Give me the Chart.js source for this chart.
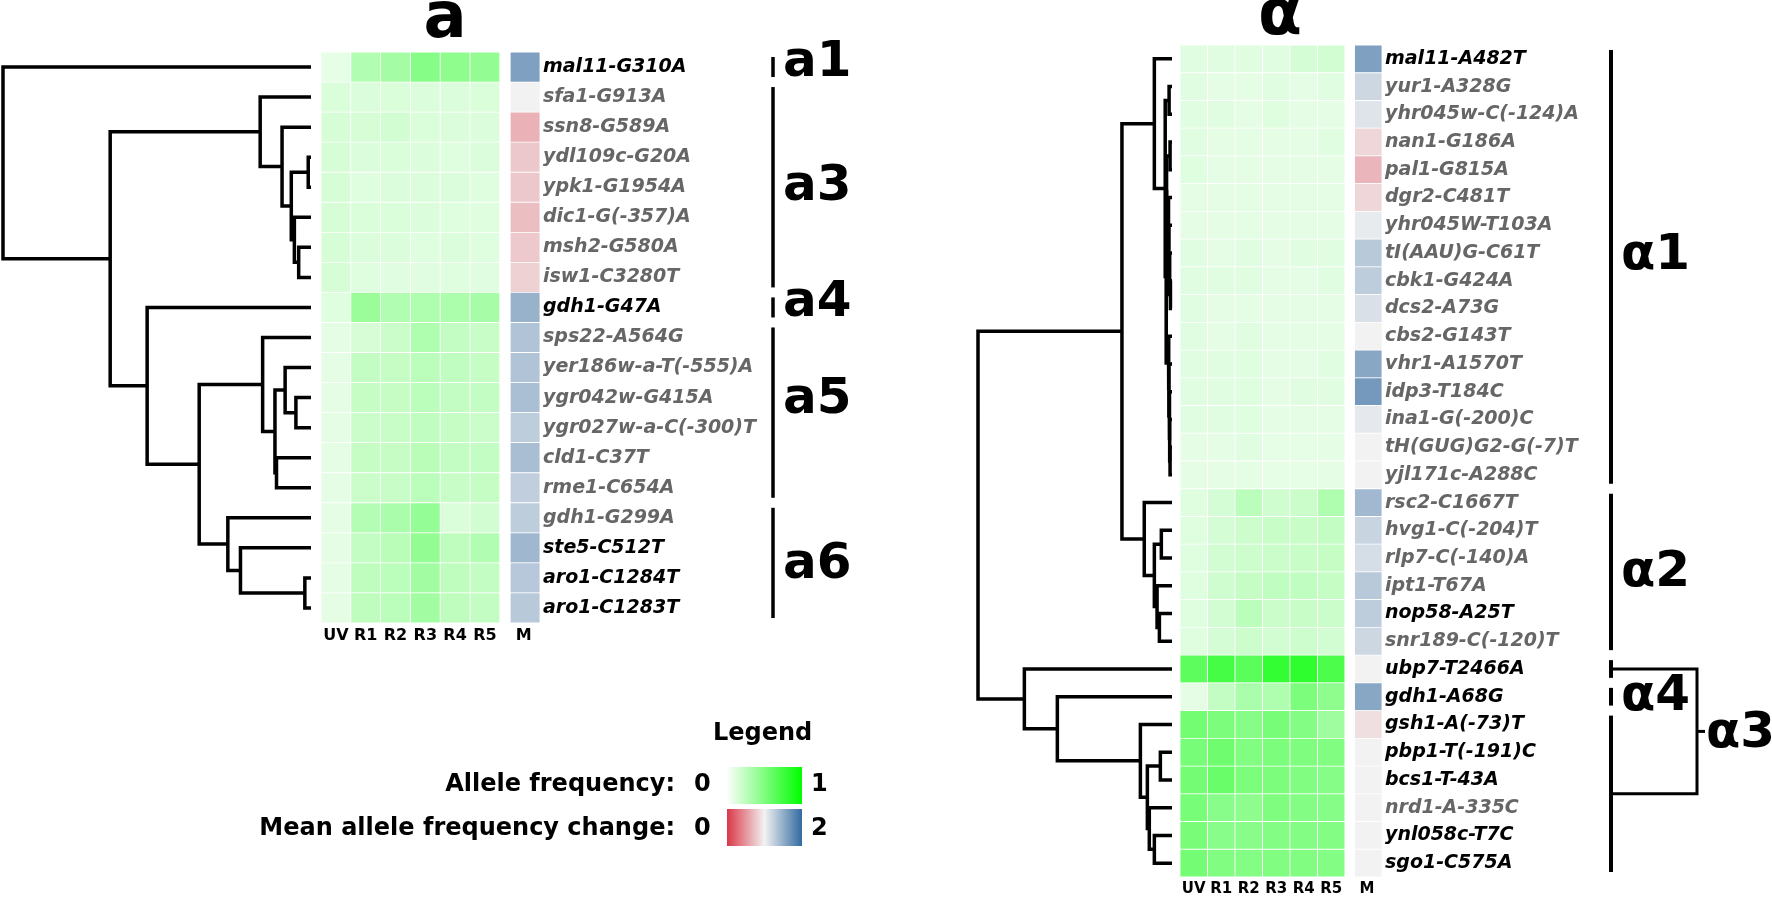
<!DOCTYPE html>
<html><head><meta charset="utf-8">
<script src="https://cdn.jsdelivr.net/npm/chart.js@4.4.1/dist/chart.umd.min.js"></script>
<style>
html,body{margin:0;padding:0;background:#fff;}
#page{position:relative;width:1772px;height:899px;overflow:hidden;background:#fff;font-family:"DejaVu Sans",Verdana,sans-serif;}
#page canvas{position:absolute;top:0;}
.lg{position:absolute;font-weight:bold;font-size:24px;line-height:24px;color:#000;white-space:nowrap;}
.cbar{position:absolute;width:75px;height:37px;}
</style></head><body><div id="page">
<canvas id="treeA" width="320" height="899" style="left:0px"></canvas>
<canvas id="heatA" width="580" height="899" style="left:300px"></canvas>
<canvas id="treeB" width="218" height="899" style="left:960px"></canvas>
<canvas id="heatB" width="612" height="899" style="left:1160px"></canvas>
<div class="lg" style="left:713px;top:720px;">Legend</div>
<div class="lg" style="left:0px;width:675px;text-align:right;top:771px;">Allele frequency:</div>
<div class="lg" style="left:0px;width:675px;text-align:right;top:815px;">Mean allele frequency change:</div>
<div class="lg" style="left:694px;top:771px;">0</div>
<div class="lg" style="left:694px;top:815px;">0</div>
<div class="lg" style="left:811px;top:771px;">1</div>
<div class="lg" style="left:811px;top:815px;">2</div>
<div class="cbar" id="cbFreq" style="left:727px;top:767px;"></div>
<div class="cbar" id="cbChange" style="left:727px;top:809px;"></div>
</div>
<script>
// ---------- data ----------
const columns = ['UV','R1','R2','R3','R4','R5'];
const changeLabel = 'M';

// panel a
const genesA = ['mal11-G310A','sfa1-G913A','ssn8-G589A','ydl109c-G20A','ypk1-G1954A','dic1-G(-357)A','msh2-G580A','isw1-C3280T','gdh1-G47A','sps22-A564G','yer186w-a-T(-555)A','ygr042w-G415A','ygr027w-a-C(-300)T','cld1-C37T','rme1-C654A','gdh1-G299A','ste5-C512T','aro1-C1284T','aro1-C1283T'];
const freqA = [
 [0.09,0.30,0.35,0.47,0.44,0.42],
 [0.14,0.13,0.14,0.13,0.13,0.14],
 [0.15,0.15,0.17,0.14,0.13,0.13],
 [0.15,0.13,0.14,0.13,0.12,0.13],
 [0.15,0.12,0.13,0.13,0.13,0.12],
 [0.15,0.14,0.14,0.13,0.12,0.12],
 [0.15,0.13,0.13,0.12,0.13,0.12],
 [0.15,0.12,0.11,0.11,0.12,0.11],
 [0.12,0.39,0.30,0.31,0.32,0.34],
 [0.10,0.15,0.20,0.31,0.23,0.21],
 [0.10,0.23,0.22,0.26,0.24,0.22],
 [0.10,0.22,0.22,0.26,0.23,0.23],
 [0.10,0.20,0.21,0.24,0.22,0.20],
 [0.10,0.22,0.22,0.27,0.23,0.23],
 [0.10,0.20,0.21,0.26,0.21,0.22],
 [0.10,0.29,0.33,0.41,0.14,0.17],
 [0.10,0.23,0.27,0.42,0.25,0.30],
 [0.10,0.25,0.26,0.36,0.25,0.23],
 [0.10,0.25,0.26,0.36,0.25,0.23]
];
const changeA = [1.60,1.00,0.65,0.77,0.77,0.72,0.78,0.82,1.47,1.34,1.34,1.37,1.27,1.38,1.26,1.27,1.43,1.31,1.30];
const blackA = [1,0,0,0,0,0,0,0,1,0,0,0,0,0,0,0,1,1,1];
// linkage: [child a, child b, height]; leaves 0..n-1, merges n..
const linkA = [
 [3,4,0.009],[6,7,0.040],[5,20,0.054],[19,21,0.064],[2,22,0.094],[1,23,0.165],
 [11,12,0.049],[10,25,0.084],[13,14,0.112],[26,27,0.117],[9,28,0.157],
 [17,18,0.020],[16,30,0.229],[15,31,0.270],[29,32,0.363],[8,33,0.532],
 [24,34,0.652],[0,35,1.000]
];
const clustersA = [
 {name:'a1', from:0, to:0, labelAt:-0.15},
 {name:'a3', from:1, to:7, labelAt:4.0},
 {name:'a4', from:8, to:8, labelAt:7.84},
 {name:'a5', from:9, to:14, labelAt:11.08},
 {name:'a6', from:15, to:18, labelAt:16.57}
];

// panel α
const genesB = ['mal11-A482T','yur1-A328G','yhr045w-C(-124)A','nan1-G186A','pal1-G815A','dgr2-C481T','yhr045W-T103A','tI(AAU)G-C61T','cbk1-G424A','dcs2-A73G','cbs2-G143T','vhr1-A1570T','idp3-T184C','ina1-G(-200)C','tH(GUG)G2-G(-7)T','yjl171c-A288C','rsc2-C1667T','hvg1-C(-204)T','rlp7-C(-140)A','ipt1-T67A','nop58-A25T','snr189-C(-120)T','ubp7-T2466A','gdh1-A68G','gsh1-A(-73)T','pbp1-T(-191)C','bcs1-T-43A','nrd1-A-335C','ynl058c-T7C','sgo1-C575A'];
const freqB = [
 [0.11,0.11,0.11,0.11,0.16,0.17],
 [0.11,0.10,0.10,0.11,0.10,0.11],
 [0.11,0.11,0.10,0.12,0.10,0.10],
 [0.11,0.10,0.10,0.10,0.10,0.11],
 [0.12,0.10,0.10,0.10,0.10,0.10],
 [0.10,0.10,0.10,0.10,0.10,0.10],
 [0.10,0.10,0.10,0.10,0.10,0.10],
 [0.11,0.10,0.11,0.10,0.11,0.11],
 [0.11,0.11,0.11,0.10,0.10,0.11],
 [0.11,0.10,0.10,0.10,0.10,0.10],
 [0.11,0.10,0.11,0.10,0.10,0.10],
 [0.11,0.11,0.12,0.10,0.10,0.11],
 [0.11,0.11,0.12,0.10,0.11,0.11],
 [0.11,0.11,0.12,0.10,0.10,0.10],
 [0.10,0.10,0.11,0.09,0.09,0.10],
 [0.10,0.10,0.10,0.09,0.09,0.10],
 [0.12,0.16,0.26,0.18,0.20,0.31],
 [0.12,0.16,0.19,0.21,0.21,0.23],
 [0.12,0.17,0.19,0.20,0.21,0.22],
 [0.12,0.18,0.22,0.24,0.24,0.22],
 [0.12,0.17,0.26,0.20,0.21,0.20],
 [0.12,0.16,0.19,0.17,0.19,0.17],
 [0.63,0.73,0.64,0.80,0.82,0.70],
 [0.10,0.23,0.33,0.31,0.51,0.44],
 [0.55,0.51,0.47,0.53,0.48,0.37],
 [0.53,0.56,0.49,0.51,0.50,0.49],
 [0.54,0.58,0.51,0.51,0.49,0.47],
 [0.53,0.46,0.44,0.50,0.48,0.47],
 [0.52,0.46,0.46,0.48,0.48,0.48],
 [0.54,0.49,0.48,0.49,0.49,0.48]
];
const changeB = [1.60,1.20,1.10,0.85,0.68,0.85,1.05,1.30,1.27,1.13,1.00,1.55,1.65,1.07,1.00,1.00,1.42,1.22,1.15,1.30,1.27,1.20,1.00,1.55,0.90,1.00,1.00,1.00,1.00,1.00];
const blackB = [1,0,0,0,0,0,0,0,0,0,0,0,0,0,0,0,0,0,0,0,1,0,1,1,1,1,1,0,1,1];
const linkB = [
 [1,2,0.015],[3,4,0.010],[8,9,0.008],[7,32,0.012],[6,33,0.016],[5,34,0.020],[31,35,0.028],
 [14,15,0.010],[13,37,0.012],[12,38,0.014],[11,39,0.016],[10,40,0.018],[36,41,0.030],
 [30,42,0.035],[0,43,0.091],
 [17,18,0.055],[20,21,0.065],[19,46,0.077],[45,47,0.091],[16,48,0.143],[44,49,0.258],
 [25,26,0.060],[28,29,0.091],[27,52,0.117],[51,53,0.127],[24,54,0.163],[23,55,0.591],
 [22,56,0.761],[50,57,1.000]
];
const clustersB = [
 {name:'α1', from:0, to:15, labelAt:7.1},
 {name:'α2', from:16, to:21, labelAt:18.55},
 {name:'', from:22, to:22},
 {name:'α4', from:23, to:23, labelAt:23.0},
 {name:'', from:24, to:29}
];
const joinsB = [{a:2, b:4, name:'α3', labelAt:24.35}];

// ---------- colour scales ----------
function freqColor(v){ const c = Math.round(253*(1-v)); return `rgb(${c},253,${c})`; }
const RED=[218,56,72], MID=[242,242,242], BLUE=[50,105,160];
function changeColor(v){
  const t = Math.max(-1, Math.min(1, v-1));
  const end = t<0 ? RED : BLUE, f = Math.abs(t);
  const c = MID.map((m,i)=>Math.round(m + (end[i]-m)*f));
  return `rgb(${c[0]},${c[1]},${c[2]})`;
}
document.getElementById('cbFreq').style.background =
  `linear-gradient(to right, ${[0,0.25,0.5,0.75,1].map(freqColor).join(',')})`;
document.getElementById('cbChange').style.background =
  `linear-gradient(to right, ${[0,0.5,1,1.5,2].map(changeColor).join(',')})`;

Chart.defaults.font.family = '"DejaVu Sans", Verdana, sans-serif';
const FONT = '"DejaVu Sans", Verdana, sans-serif';

// ---------- dendrogram ----------
function treeDatasets(links, n){
  const pos = [];
  for (let i=0;i<n;i++) pos.push({y:i, h:0});
  const ds = [];
  links.forEach(([a,b,h])=>{
    const A = pos[a], B = pos[b];
    ds.push({
      data:[{x:A.h,y:A.y},{x:h,y:A.y},{x:h,y:B.y},{x:B.h,y:B.y}],
      showLine:true, borderColor:'#000', borderWidth:3.5, pointRadius:0,
      borderJoinStyle:'miter', borderCapStyle:'butt', tension:0, fill:false, clip:false
    });
    pos.push({y:(A.y+B.y)/2, h});
  });
  return ds;
}
function treeChart(id, links, n, padding){
  return new Chart(document.getElementById(id), {
    type:'scatter',
    data:{datasets:treeDatasets(links, n)},
    options:{
      responsive:false, animation:false, devicePixelRatio:1, events:[],
      layout:{padding},
      plugins:{legend:{display:false}, tooltip:{enabled:false}},
      scales:{
        x:{type:'linear', min:0, max:1, reverse:true, display:false},
        y:{type:'linear', min:-0.5, max:n-0.5, reverse:true, display:false}
      }
    }
  });
}

// ---------- heatmap ----------
const M_GAP = 0.35;
const annotPlugin = {
  id:'annot',
  afterDraw(chart, args, o){
    const {ctx, chartArea, scales:{y}} = chart;
    const rowH = Math.abs(y.getPixelForValue(1) - y.getPixelForValue(0));
    const bx = chartArea.right + o.offset;
    ctx.save();
    ctx.strokeStyle = '#000'; ctx.fillStyle = '#000';
    ctx.lineWidth = o.lineWidth; ctx.lineCap = 'butt'; ctx.lineJoin = 'miter';
    ctx.font = `bold ${o.labelSize}px ${FONT}`;
    ctx.textBaseline = 'middle'; ctx.textAlign = 'left';
    const mids = [];
    o.clusters.forEach(c=>{
      const y0 = y.getPixelForValue(c.from) - rowH/2 + o.inset;
      const y1 = y.getPixelForValue(c.to) + rowH/2 - o.inset;
      ctx.beginPath(); ctx.moveTo(bx, y0); ctx.lineTo(bx, y1); ctx.stroke();
      mids.push((y0+y1)/2);
      if (c.name) ctx.fillText(c.name, bx + o.labelGap, y.getPixelForValue(c.labelAt));
    });
    (o.joins||[]).forEach(j=>{
      const ya = mids[j.a], yb = mids[j.b], xr = bx + 86;
      ctx.lineWidth = 3;
      ctx.beginPath(); ctx.moveTo(bx, ya); ctx.lineTo(xr, ya); ctx.lineTo(xr, yb); ctx.lineTo(bx, yb); ctx.stroke();
      const ym = (ya+yb)/2;
      ctx.beginPath(); ctx.moveTo(xr, ym); ctx.lineTo(xr+8, ym); ctx.stroke();
      ctx.fillText(j.name, xr + 9, y.getPixelForValue(j.labelAt));
    });
    ctx.font = `bold 64px ${FONT}`;
    ctx.textAlign = 'center'; ctx.textBaseline = 'alphabetic';
    ctx.fillText(o.title, chartArea.left + o.titleDx, o.titleBaseline);
    ctx.restore();
  }
};
function heatChart(id, genes, freq, change, black, cfg){
  const mStart = columns.length + M_GAP;
  const common = {barPercentage:1, categoryPercentage:1, grouped:false,
    borderWidth:0.75, borderColor:'#fff', borderSkipped:false};
  const datasets = columns.map((c,j)=>Object.assign({
    label:c, data:genes.map(()=>[j, j+1]),
    backgroundColor:freq.map(r=>freqColor(r[j]))
  }, common));
  datasets.push(Object.assign({
    label:changeLabel, data:genes.map(()=>[mStart, mStart+1]),
    backgroundColor:change.map(changeColor)
  }, common));
  const tickPos = columns.map((_,j)=>j+0.5).concat([mStart+0.45]);
  const tickNames = columns.concat([changeLabel]);
  return new Chart(document.getElementById(id), {
    type:'bar',
    data:{labels:genes, datasets},
    options:{
      indexAxis:'y', responsive:false, animation:false, devicePixelRatio:1, events:[],
      layout:{padding:cfg.padding},
      plugins:{legend:{display:false}, tooltip:{enabled:false}, annot:cfg.annot},
      scales:{
        x:{type:'linear', min:0, max:mStart+1, position:'bottom',
           grid:{display:false, drawTicks:false}, border:{display:false},
           afterBuildTicks:s=>{ s.ticks = tickPos.map(v=>({value:v})); },
           afterFit:s=>{ s.height = cfg.xAxisH; s.paddingLeft = 0; s.paddingRight = 0; },
           ticks:{autoSkip:false, maxRotation:0, minRotation:0, padding:3, color:'#000',
             font:{size:cfg.tickSize, weight:'bold'}, callback:(v,i)=>tickNames[i]}},
        y:{type:'category', position:'right', offset:true,
           grid:{display:false, drawTicks:false}, border:{display:false},
           afterFit:s=>{ s.width = cfg.yAxisW; s.paddingTop = 0; s.paddingBottom = 0; },
           ticks:{autoSkip:false, padding:3,
             color:c=>black[c.index] ? '#000' : '#666',
             font:{size:19, weight:'bold', style:'italic'}}}
      }
    },
    plugins:[annotPlugin]
  });
}

treeChart('treeA', linkA, genesA.length, {left:3, right:9, top:52, bottom:276});
treeChart('treeB', linkB, genesB.length, {left:18, right:6, top:45, bottom:22});

heatChart('heatA', genesA, freqA, changeA, blackA, {
  padding:{left:21, right:0, top:52, bottom:246}, xAxisH:30, yAxisW:340, tickSize:16,
  annot:{offset:233, lineWidth:3.5, inset:5, labelGap:10, labelSize:50,
    clusters:clustersA, title:'a', titleDx:124, titleBaseline:37}
});
heatChart('heatB', genesB, freqB, changeB, blackB, {
  padding:{left:20, right:0, top:45, bottom:0}, xAxisH:22, yAxisW:390, tickSize:15,
  annot:{offset:229, lineWidth:4, inset:5, labelGap:10, labelSize:50,
    clusters:clustersB, joins:joinsB, title:'α', titleDx:100, titleBaseline:34}
});
</script>
</body></html>
